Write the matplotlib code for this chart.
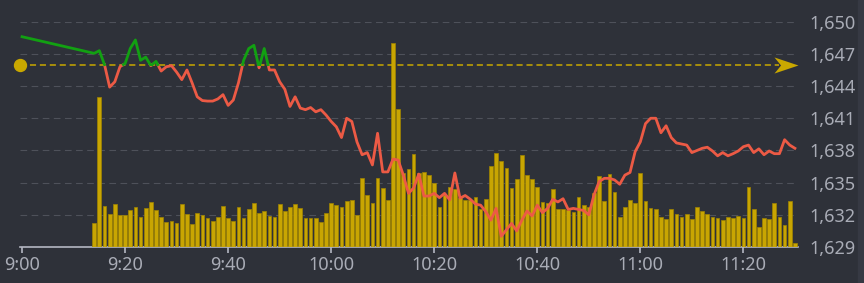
import matplotlib
matplotlib.use("Agg")
import matplotlib.pyplot as plt
import matplotlib.transforms as mtransforms
from matplotlib.path import Path
import numpy as np

plt.rcParams['font.family'] = ['Noto Sans', 'DejaVu Sans']

# Data (minutes after 9:00)
ref_price = 1646.0
open_time = 0
open_price = 1648.6
start_min = 14  # per-minute data from 9:14 to 11:30

prices = [
    1647.05, 1647.3, 1646.0, 1643.9, 1644.4, 1645.8, 1646.1, 1647.5, 1648.3, 1646.4,
    1646.7, 1645.9, 1646.3, 1645.4, 1645.8, 1645.9, 1645.3, 1644.6, 1645.5, 1644.3,
    1643.0, 1642.65, 1642.6, 1642.6, 1642.8, 1643.2, 1642.2, 1642.7, 1644.3, 1646.4,
    1647.5, 1647.8, 1645.7, 1647.5, 1645.5, 1645.5, 1644.4, 1643.7, 1642.1, 1643.0,
    1641.95, 1641.8, 1642.0, 1641.6, 1641.8, 1641.3,
    1640.7, 1640.2, 1639.2, 1641.0, 1640.7, 1638.8, 1637.6, 1637.8, 1636.65, 1639.6,
    1636.0, 1636.0, 1637.2, 1637.1, 1635.7, 1634.0, 1634.5, 1635.8, 1633.75, 1633.75,
    1634.0, 1633.6, 1634.0, 1633.4, 1635.9, 1633.55, 1633.8, 1633.45, 1633.0, 1632.9,
    1632.3, 1631.5, 1632.6, 1630.0, 1630.6, 1631.2, 1630.5, 1631.5, 1632.35, 1631.9,
    1632.9, 1632.2, 1632.6, 1633.45, 1633.2, 1633.5, 1632.5, 1632.6, 1632.5, 1632.4,
    1632.0, 1633.85, 1635.1, 1635.4, 1635.4, 1635.25, 1634.85, 1635.7, 1635.95, 1637.9,
    1638.8, 1640.5, 1641.0, 1641.0, 1639.65, 1640.3, 1639.2, 1638.7, 1638.6, 1638.5,
    1637.8, 1638.0, 1638.2, 1638.3, 1637.95, 1637.5, 1637.8, 1637.5, 1637.7, 1637.95,
    1638.35, 1638.5, 1637.8, 1638.15, 1637.6, 1637.95, 1637.7, 1637.7, 1639.0, 1638.5,
    1638.2,
]

volumes = [
    24, 150, 41, 33, 43, 32, 32, 37, 40, 30, 39, 45, 37, 30, 25, 26, 24, 43, 33, 23,
    34, 32, 29, 26, 30, 41, 29, 26, 40, 29, 38, 44, 34, 36, 31, 30, 43, 36, 40, 43,
    39, 29, 29, 29, 25, 34,
    44, 42, 40, 46, 47, 32, 69, 52, 44, 69, 59, 47, 204, 138, 74, 78, 93, 74, 75, 72,
    64, 40, 52, 60, 58, 49, 47, 47, 50, 38, 48, 81, 94, 86, 79, 59, 68, 92, 72, 68,
    60, 45, 44, 58, 38, 38, 37, 35, 50, 42, 40, 54, 71, 46, 73, 55, 30, 40, 47, 44,
    74, 46, 39, 38, 30, 28, 38, 33, 30, 33, 28, 40, 36, 33, 30, 29, 27, 30, 29, 31,
    29, 60, 38, 20, 29, 28, 44, 30, 22, 46, 4,
]

tick_mins = [0, 20, 40, 60, 80, 100, 120, 140]
tick_labels = ["9:00", "9:20", "9:40", "10:00", "10:20", "10:40", "11:00", "11:20"]
price_ticks = [1629, 1632, 1635, 1638, 1641, 1644, 1647, 1650]

bg = '#2e3139'
txt = '#a9acb6'
bar_color = '#c8a502'
ref_color = '#c9a800'
up_color = '#12a012'
down_color = '#ec5a45'

minutes = np.arange(start_min, start_min + len(prices))
vol_minutes = np.arange(start_min, start_min + len(volumes))
t = np.concatenate([[open_time], minutes]).astype(float)
p = np.concatenate([[open_price], prices])

# insert crossing points so the line changes colour exactly at the reference
ts, ps = [t[0]], [p[0]]
for i in range(1, len(t)):
    a, b = p[i - 1] - ref_price, p[i] - ref_price
    if a * b < 0:
        f = a / (a - b)
        ts.append(t[i - 1] + f * (t[i] - t[i - 1]))
        ps.append(ref_price)
    ts.append(t[i])
    ps.append(p[i])
ts, ps = np.array(ts), np.array(ps)
above = np.where(ps >= ref_price, ps, np.nan)
below = np.where(ps <= ref_price, ps, np.nan)

fig = plt.figure(figsize=(8.64, 2.83), dpi=100, facecolor=bg)
rect = [20 / 864, 36 / 283, 778 / 864, 225.3 / 283]
ax = fig.add_axes(rect)
ax.set_facecolor(bg)
ax.set_xlim(-0.4, 150.6)
ax.set_ylim(1629, 1650)

# volume bars
ax_vol = ax.twinx()
ax_vol.set_ylim(0, 225.3)
ax_vol.bar(vol_minutes, volumes, width=0.72, color=bar_color,
           edgecolor='#a08400', linewidth=0.5)
ax_vol.set_yticks([])
for s in ax_vol.spines.values():
    s.set_visible(False)

# price line
ax_p = ax.twinx()
ax_p.set_ylim(1629, 1650)
ax_p.set_yticks([])
for s in ax_p.spines.values():
    s.set_visible(False)

# grid + axes styling (after twinx, which moves ticks to the left)
ax.yaxis.tick_right()
ax.set_yticks(price_ticks)
ax.set_yticklabels([f"{v:,}" for v in price_ticks])
ax.tick_params(axis='y', which='both', left=False, right=False, labelleft=False,
               labelright=True, length=0, pad=8, labelsize=13, labelcolor=txt)
ax.set_xticks(tick_mins)
ax.set_xticklabels(tick_labels)
ax.tick_params(axis='x', length=4.3, width=1.2, color='#b4b7c2', pad=2,
               labelsize=13, labelcolor=txt)
for s in ['top', 'left', 'right']:
    ax.spines[s].set_visible(False)
ax.spines['bottom'].set_color('#b4b7c2')
ax.spines['bottom'].set_linewidth(1.2)
for v in price_ticks[1:]:
    ax.axhline(v, color='#4e515a', lw=0.8, dashes=(6, 4), zorder=0)

ax_p.axhline(ref_price, xmin=0, xmax=0.975, color=ref_color, lw=1.1, dashes=(4, 2.5))
ax_p.plot(ts, below, color=down_color, lw=2.0, solid_joinstyle='round')
ax_p.plot(ts, above, color=up_color, lw=2.0, solid_joinstyle='round')

trans = mtransforms.blended_transform_factory(ax_p.transAxes, ax_p.transData)
ax_p.plot([0], [ref_price], marker='o', ms=8.6, color=ref_color,
          transform=trans, clip_on=False)
arrow = Path([(0, 0), (-2, 0.67), (-1.45, 0), (-2, -0.67), (0, 0)],
             [Path.MOVETO, Path.LINETO, Path.LINETO, Path.LINETO, Path.CLOSEPOLY])
ax_p.plot([1.0], [ref_price], marker=arrow, ms=34.6, color=ref_color,
          markeredgewidth=0, transform=trans, clip_on=False)

fig.patches.append(plt.Rectangle((858 / 864, 0), 6 / 864, 1, transform=fig.transFigure,
                                 color='#363943', zorder=0))

fig.savefig("out.png", dpi=100, facecolor=bg)
